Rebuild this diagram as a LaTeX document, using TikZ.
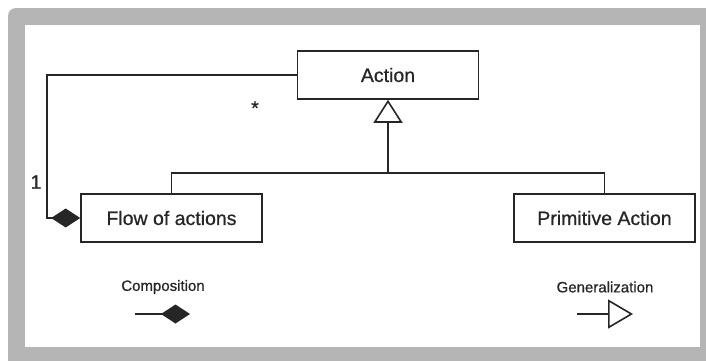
\documentclass[tikz,border=0pt]{standalone}
\usepackage{fontspec}
\setmainfont{Liberation Sans}[FakeBold=0.7]
\usetikzlibrary{arrows.meta}
\definecolor{frame}{HTML}{B5B5B5}
\definecolor{ink}{HTML}{262626}
\tikzset{
  classbox/.style={draw=ink, line width=1.6pt, fill=white, minimum width=181pt,
    minimum height=48pt, inner sep=0pt, text=ink, font=\fontsize{19.5}{22}\selectfont},
  link/.style={draw=ink, line width=1.6pt},
  genlink/.style={link, -{Triangle[open, length=23pt, width=29pt, line width=1.6pt]}},
  complink/.style={link, -{Diamond[length=29pt, width=19pt]}},
  mult/.style={text=ink, inner sep=0pt, font=\fontsize{19.5}{22}\selectfont},
  legendtext/.style={text=ink, inner sep=0pt, font=\fontsize{15}{18}\selectfont}
}
\begin{document}
\begin{tikzpicture}[x=1pt, y=-1pt]
  \useasboundingbox (0,0) rectangle (706,360);
  % textured frame around the drawing area
  \begin{scope}
    \clip (0,0) rectangle (706,360);
    \fill[frame, rounded corners=8pt] (8,8) rectangle (730,390);
    \fill[white] (25,25) rectangle (700,347);
  \end{scope}

  % classes
  \node[classbox] (action) at (388,75) {Action};
  \node[classbox] (flow) at (171.5,218) {Flow of actions};
  \node[classbox] (prim) at (604.5,218) {Primitive Action};

  % generalization tree
  \coordinate (join) at (388,173);
  \draw[link] (flow.north) |- (join) -| (prim.north);
  \draw[genlink] (join) -- (action.south);

  % composition: a flow of actions is made of actions
  \coordinate (elbow) at (47,75);
  \draw[complink] (action.west) -- (elbow) |- (flow.west);
  \node[mult] (one) at (36,182) {1};
  \node[mult] (many) at (255,108) {*};

  % legend
  \node[legendtext] (comptext) at (163,287) {Composition};
  \coordinate (compA) at (135,314);
  \coordinate (compB) at (190,314);
  \draw[complink] (compA) -- (compB);
  \node[legendtext] (gentext) at (605,287) {Generalization};
  \coordinate (genA) at (577,314);
  \coordinate (genB) at (633,314);
  \draw[link, -{Triangle[open, length=25pt, width=29pt, line width=1.6pt]}] (genA) -- (genB);
\end{tikzpicture}
\end{document}
